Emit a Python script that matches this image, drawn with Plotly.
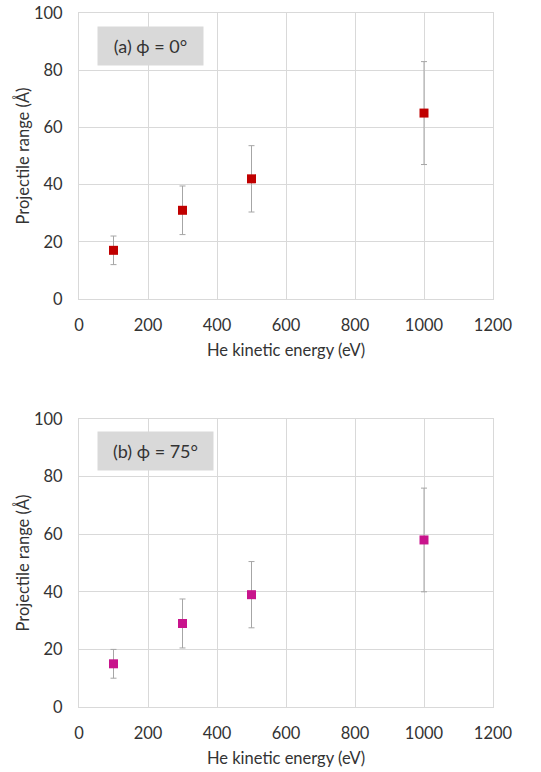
import plotly.graph_objects as go
from plotly.subplots import make_subplots

energy = [100, 300, 500, 1000]
range_a = [17, 31, 42, 65]
err_a = [5, 8.5, 11.6, 18]
range_b = [15, 29, 39, 58]
err_b = [5, 8.5, 11.5, 18]
label_a = "(a) ϕ = 0°"
label_b = "(b) ϕ = 75°"
x_title = "He kinetic energy (eV)"
y_title = "Projectile range (Å)"

FONT = "Lato, Open Sans, sans-serif"
GRID = "#D9D9D9"
TXT = "#333333"

fig = make_subplots(rows=2, cols=1, vertical_spacing=0.173)

fig.add_trace(go.Scatter(
    x=energy, y=range_a, mode="markers",
    marker=dict(symbol="square", size=9, color="#C00000"),
    error_y=dict(type="data", array=err_a, visible=True, color="#A6A6A6", thickness=1, width=3),
    showlegend=False), row=1, col=1)
fig.add_trace(go.Scatter(
    x=energy, y=range_b, mode="markers",
    marker=dict(symbol="square", size=9, color="#C8148C"),
    error_y=dict(type="data", array=err_b, visible=True, color="#A6A6A6", thickness=1, width=3),
    showlegend=False), row=2, col=1)

for r in (1, 2):
    fig.update_xaxes(range=[0, 1200], dtick=200, showgrid=True, gridcolor=GRID, gridwidth=1,
                     showline=True, linecolor=GRID, mirror=True, zeroline=False, automargin=False,
                     ticks="outside", ticklen=11, tickcolor="rgba(0,0,0,0)",
                     tickfont=dict(family=FONT, size=16.5, color=TXT),
                     title=dict(text=x_title, font=dict(family=FONT, size=16.5, color=TXT), standoff=10),
                     row=r, col=1)
    fig.update_yaxes(range=[0, 100], dtick=20, showgrid=True, gridcolor=GRID, gridwidth=1,
                     showline=True, linecolor=GRID, mirror=True, zeroline=False, automargin=False,
                     ticks="outside", ticklen=12, tickcolor="rgba(0,0,0,0)",
                     tickfont=dict(family=FONT, size=16.5, color=TXT),
                     title=dict(text=y_title, font=dict(family=FONT, size=16.5, color=TXT), standoff=0),
                     row=r, col=1)

fig.add_annotation(x=207, y=88.4, xref="x", yref="y", text=label_a, showarrow=False,
                   bgcolor=GRID, width=97, height=30, borderpad=4,
                   font=dict(family=FONT, size=18, color=TXT))
fig.add_annotation(x=222, y=88.9, xref="x2", yref="y2", text=label_b, showarrow=False,
                   bgcolor=GRID, width=107, height=30, borderpad=4,
                   font=dict(family=FONT, size=18, color=TXT))

fig.update_layout(width=541, height=772, paper_bgcolor="white", plot_bgcolor="white",
                  margin=dict(l=79, r=48, t=13, b=65))
fig.update_layout(yaxis=dict(domain=[0.588, 1.0]), yaxis2=dict(domain=[0.0, 0.415]))

fig.write_html("out.html", config={"displayModeBar": False},
               post_script="document.body.style.margin='0';document.body.style.padding='0';")
